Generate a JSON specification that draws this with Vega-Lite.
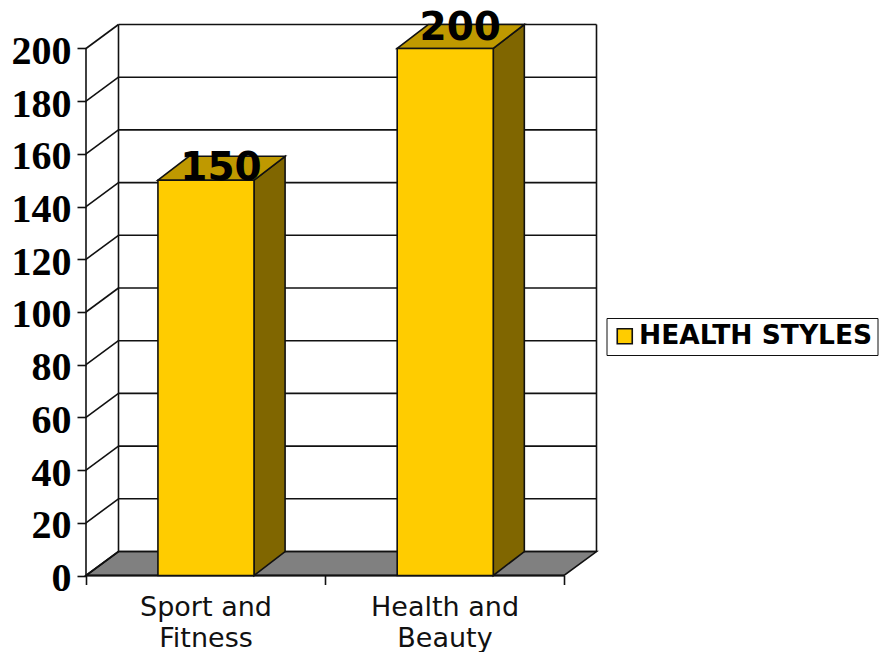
{
  "$schema": "https://vega.github.io/schema/vega-lite/v6.json",
  "width": 793,
  "height": 575.5,
  "autosize": "none",
  "padding": {"left": 86, "top": 0, "right": 0, "bottom": 76.5},
  "background": "#ffffff",
  "config": {"view": {"stroke": null}},
  "datasets": {
    "bars": [
      {"category": "Sport and Fitness", "series": "HEALTH STYLES", "value": 150, "start": 0.301, "end": 0.703, "center": 0.502},
      {"category": "Health and Beauty", "series": "HEALTH STYLES", "value": 200, "start": 1.302, "end": 1.704, "center": 1.503}
    ],
    "gridlines": [
      {"value": 0}, {"value": 20}, {"value": 40}, {"value": 60}, {"value": 80}, {"value": 100},
      {"value": 120}, {"value": 140}, {"value": 160}, {"value": 180}, {"value": 200}
    ],
    "floor": [
      {"x": 0, "y": 0, "y2": 0},
      {"x": 0.136, "y": 9.1, "y2": 0},
      {"x": 2, "y": 9.1, "y2": 0},
      {"x": 2.136, "y": 9.1, "y2": 9.1}
    ],
    "sides": [
      {"category": "Sport and Fitness", "x": 0.703, "y": 150, "y2": 0},
      {"category": "Sport and Fitness", "x": 0.833, "y": 159.1, "y2": 9.1},
      {"category": "Health and Beauty", "x": 1.704, "y": 200, "y2": 0},
      {"category": "Health and Beauty", "x": 1.834, "y": 209.1, "y2": 9.1}
    ],
    "tops": [
      {"category": "Sport and Fitness", "x": 0.301, "y": 150, "y2": 150},
      {"category": "Sport and Fitness", "x": 0.431, "y": 159.1, "y2": 150},
      {"category": "Sport and Fitness", "x": 0.703, "y": 159.1, "y2": 150},
      {"category": "Sport and Fitness", "x": 0.833, "y": 159.1, "y2": 159.1},
      {"category": "Health and Beauty", "x": 1.302, "y": 200, "y2": 200},
      {"category": "Health and Beauty", "x": 1.432, "y": 209.1, "y2": 200},
      {"category": "Health and Beauty", "x": 1.704, "y": 209.1, "y2": 200},
      {"category": "Health and Beauty", "x": 1.834, "y": 209.1, "y2": 209.1}
    ]
  },
  "layer": [
    {
      "data": {"name": "floor"},
      "mark": {"type": "area", "fill": "#808080", "stroke": "#111111", "strokeWidth": 1.6},
      "encoding": {
        "x": {
          "field": "x", "type": "quantitative",
          "scale": {"domain": [0, 3.318], "nice": false, "zero": false},
          "axis": {
            "title": null, "domain": false, "grid": false,
            "values": [0, 0.5, 1, 1.5, 2],
            "tickColor": "#111111", "tickWidth": 1.6, "tickSize": 9,
            "tickOpacity": {"condition": {"test": "datum.value % 1 != 0", "value": 0}, "value": 1},
            "labelExpr": "datum.value == 0.5 ? ['Sport and', 'Fitness'] : datum.value == 1.5 ? ['Health and', 'Beauty'] : ''",
            "labelFont": "DejaVu Sans", "labelFontSize": 27, "labelColor": "#111111",
            "labelLineHeight": 31, "labelPadding": 10, "labelOverlap": false, "labelFlush": false
          }
        },
        "y": {
          "field": "y", "type": "quantitative",
          "scale": {"domain": [0, 218.4], "nice": false, "zero": false},
          "axis": {
            "title": null, "domain": false, "grid": false,
            "values": [0, 20, 40, 60, 80, 100, 120, 140, 160, 180, 200],
            "tickColor": "#111111", "tickWidth": 1.6, "tickSize": 9,
            "labelFont": "Liberation Serif", "labelFontWeight": "bold", "labelFontSize": 40,
            "labelColor": "#000000", "labelPadding": 6, "labelOffset": 3, "labelOverlap": false
          }
        },
        "y2": {"field": "y2"}
      }
    },
    {
      "data": {"name": "gridlines"},
      "mark": {"type": "rule", "stroke": "#111111", "strokeWidth": 1.6, "xOffset": 32.5, "x2Offset": 32.5, "yOffset": -24},
      "encoding": {
        "x": {"datum": 0, "type": "quantitative"},
        "x2": {"datum": 2},
        "y": {"field": "value", "type": "quantitative"}
      }
    },
    {
      "data": {"name": "gridlines"},
      "mark": {"type": "rule", "stroke": "#111111", "strokeWidth": 1.6, "x2Offset": 32.5, "y2Offset": -24},
      "encoding": {
        "x": {"datum": 0, "type": "quantitative"},
        "x2": {"datum": 0},
        "y": {"field": "value", "type": "quantitative"},
        "y2": {"field": "value"}
      }
    },
    {
      "data": {"values": [{"x": 0}, {"x": 2}]},
      "mark": {"type": "rule", "stroke": "#111111", "strokeWidth": 1.6, "xOffset": 32.5, "yOffset": -24, "y2Offset": -24},
      "encoding": {
        "x": {"field": "x", "type": "quantitative"},
        "y": {"datum": 0, "type": "quantitative"},
        "y2": {"datum": 200}
      }
    },
    {
      "data": {"values": [{"x": 0}]},
      "mark": {"type": "rule", "stroke": "#111111", "strokeWidth": 1.6},
      "encoding": {
        "x": {"field": "x", "type": "quantitative"},
        "y": {"datum": 0, "type": "quantitative"},
        "y2": {"datum": 200}
      }
    },
    {
      "data": {"values": [{"y": 0}]},
      "mark": {"type": "rule", "stroke": "#111111", "strokeWidth": 2},
      "encoding": {
        "x": {"datum": 0, "type": "quantitative"},
        "x2": {"datum": 2},
        "y": {"field": "y", "type": "quantitative"}
      }
    },
    {
      "data": {"name": "sides"},
      "mark": {"type": "area", "fill": "#806600", "stroke": "#111111", "strokeWidth": 1.6},
      "encoding": {
        "x": {"field": "x", "type": "quantitative"},
        "y": {"field": "y", "type": "quantitative"},
        "y2": {"field": "y2"},
        "detail": {"field": "category"}
      }
    },
    {
      "data": {"name": "tops"},
      "mark": {"type": "area", "fill": "#BF9900", "stroke": "#111111", "strokeWidth": 1.6},
      "encoding": {
        "x": {"field": "x", "type": "quantitative"},
        "y": {"field": "y", "type": "quantitative"},
        "y2": {"field": "y2"},
        "detail": {"field": "category"}
      }
    },
    {
      "data": {"name": "bars"},
      "mark": {"type": "rect", "stroke": "#111111", "strokeWidth": 1.6},
      "encoding": {
        "x": {"field": "start", "type": "quantitative"},
        "x2": {"field": "end"},
        "y": {"field": "value", "type": "quantitative"},
        "y2": {"datum": 0},
        "color": {
          "field": "series", "type": "nominal",
          "scale": {"domain": ["HEALTH STYLES"], "range": ["#FFCC00"]},
          "legend": {
            "title": null, "orient": "none", "legendX": 520.5, "legendY": 318,
            "fillColor": "#ffffff", "strokeColor": "#111111", "padding": 5,
            "symbolType": "square", "symbolSize": 225, "symbolStrokeColor": "#111111", "symbolStrokeWidth": 1.6,
            "labelFont": "DejaVu Sans", "labelFontWeight": "bold", "labelFontSize": 26.5,
            "labelColor": "#000000", "labelOffset": 1, "labelLimit": 300,
            "encoding": {"legend": {"update": {"strokeWidth": {"value": 1.6}}}}
          }
        }
      }
    },
    {
      "data": {"name": "bars"},
      "transform": [{"filter": "datum.value == 150"}],
      "mark": {"type": "text", "font": "DejaVu Sans", "fontWeight": "bold", "fontSize": 39, "color": "#000000", "align": "center", "baseline": "alphabetic", "xOffset": 15, "yOffset": 0},
      "encoding": {
        "x": {"field": "center", "type": "quantitative"},
        "y": {"field": "value", "type": "quantitative"},
        "text": {"field": "value", "type": "quantitative"}
      }
    },
    {
      "data": {"name": "bars"},
      "transform": [{"filter": "datum.value == 200"}],
      "mark": {"type": "text", "font": "DejaVu Sans", "fontWeight": "bold", "fontSize": 39, "color": "#000000", "align": "center", "baseline": "alphabetic", "xOffset": 15, "yOffset": -8},
      "encoding": {
        "x": {"field": "center", "type": "quantitative"},
        "y": {"field": "value", "type": "quantitative"},
        "text": {"field": "value", "type": "quantitative"}
      }
    }
  ]
}
